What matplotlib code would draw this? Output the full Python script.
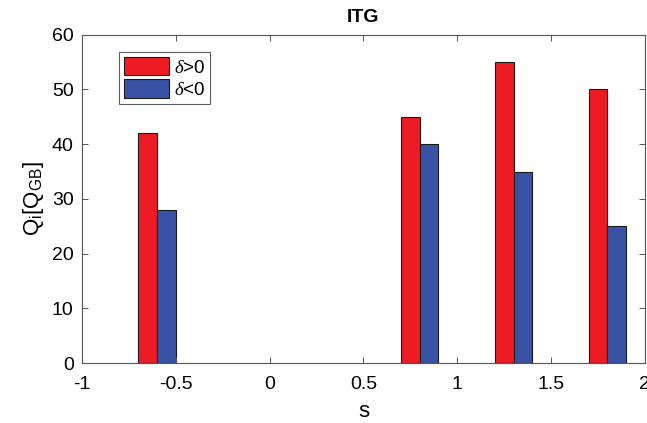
import numpy as np
import matplotlib.pyplot as plt
import matplotlib.patches as mpatches

plt.rcParams['font.family'] = ['Liberation Sans', 'DejaVu Sans']
plt.rcParams['mathtext.fontset'] = 'custom'
plt.rcParams['mathtext.rm'] = 'Liberation Sans'
plt.rcParams['mathtext.it'] = 'Liberation Serif:italic'

s = [-0.6, 0.8, 1.3, 1.8]
q_pos = [42, 45, 55, 50]
q_neg = [28, 40, 35, 25]
labels = [r'$\delta$>0', r'$\delta$<0']

red = "#ED1C24"
blue = "#3953A4"
bw = 0.1

fig = plt.figure(figsize=(6.47, 4.23), dpi=100)
ax = fig.add_axes([0.1267, 0.1418, 0.870, 0.776])

x = np.array(s)
ax.bar(x - bw/2, q_pos, width=bw, color=red, edgecolor="#1a1a1a", linewidth=0.8)
ax.bar(x + bw/2, q_neg, width=bw, color=blue, edgecolor="#1a1a1a", linewidth=0.8)

ax.set_xlim(-1, 2)
ax.set_ylim(0, 60)
ax.set_xticks(np.arange(-1, 2.01, 0.5))
ax.set_xticklabels(['-1', '-0.5', '0', '0.5', '1', '1.5', '2'])
ax.set_yticks(np.arange(0, 61, 10))
ax.tick_params(direction='in', top=True, right=True, labelsize=14,
               length=4, width=0.7, color='#555555')
ax.tick_params(axis='x', pad=9)
ax.tick_params(axis='y', pad=6)
for sp in ax.spines.values():
    sp.set_color('#555555')
    sp.set_linewidth(0.8)

ax.set_xlabel('s', fontsize=16, labelpad=6)
ax.set_ylabel(r'Q$_\mathrm{i}$[Q$_\mathrm{GB}$]', fontsize=16, labelpad=4)
ax.set_title('ITG', fontsize=14, fontweight='bold', pad=9)

handles = [mpatches.Patch(facecolor=red, edgecolor='#1a1a1a', linewidth=0.8),
           mpatches.Patch(facecolor=blue, edgecolor='#1a1a1a', linewidth=0.8)]
leg = ax.legend(handles, labels, loc='upper left', bbox_to_anchor=(0.066, 0.947),
                fontsize=13.5, fancybox=False, edgecolor='#333333',
                handlelength=2.4, handleheight=1.15, handletextpad=0.25,
                borderpad=0.25, labelspacing=0.15, borderaxespad=0)
leg.get_frame().set_linewidth(0.8)

fig.savefig("out.png", dpi=100)
